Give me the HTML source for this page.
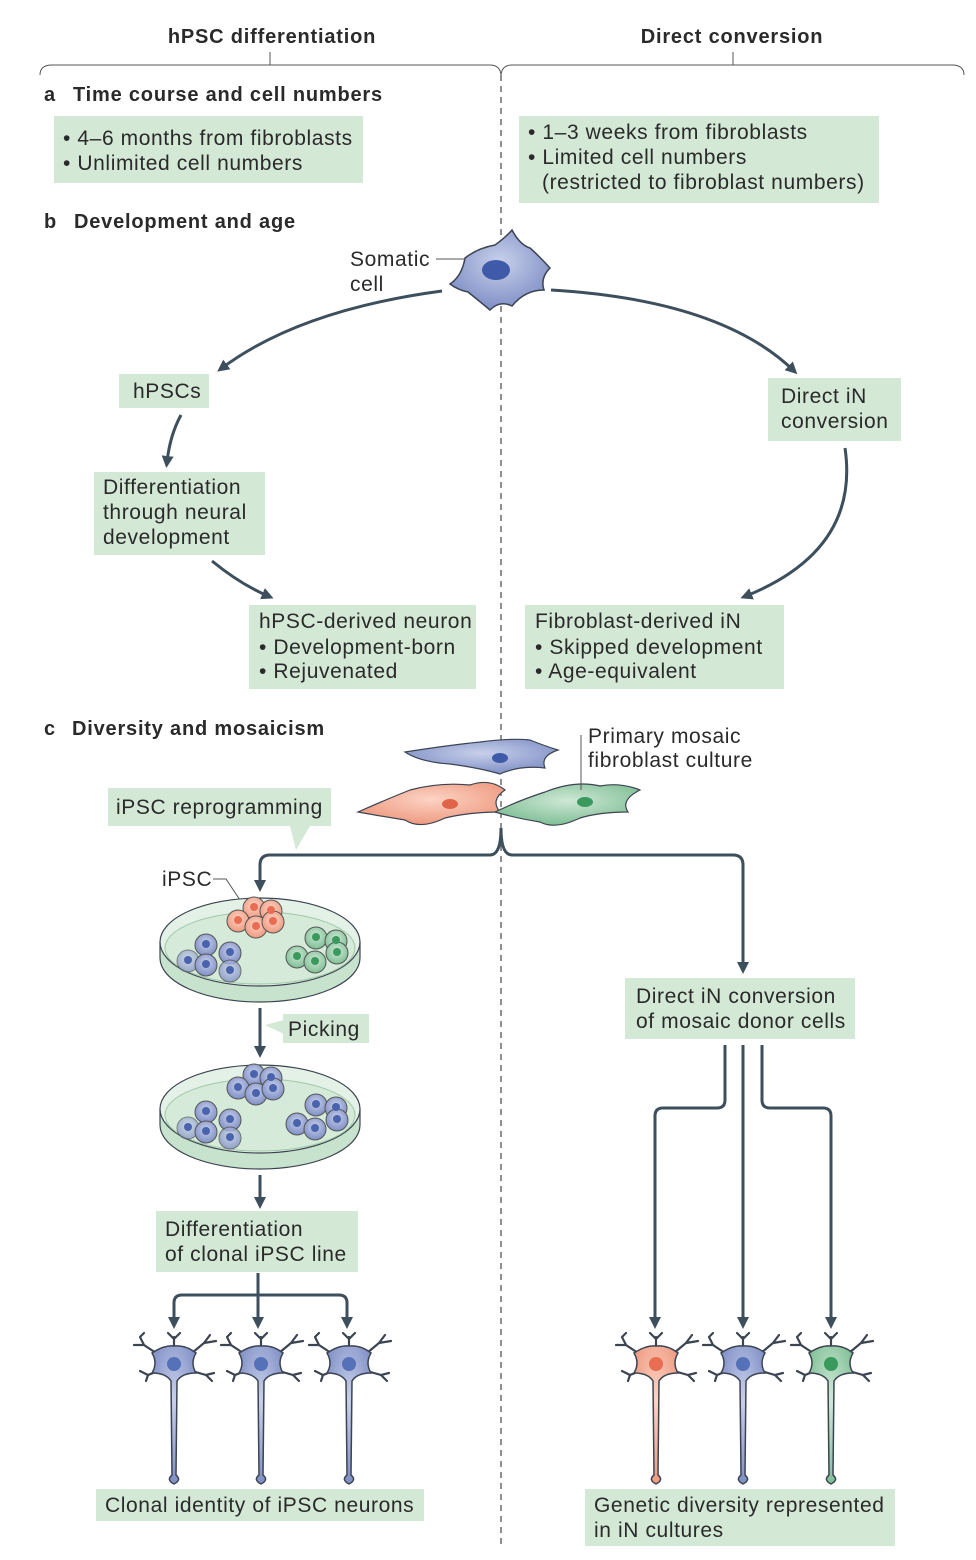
<!DOCTYPE html>
<html><head><meta charset="utf-8"><style>
html,body{margin:0;padding:0;background:#fff}
svg{display:block}
text{font-family:"Liberation Sans","DejaVu Sans",sans-serif;fill:#2a2a2a;font-size:21px;letter-spacing:0.6px}
.b{font-weight:bold;font-size:20px;letter-spacing:0.8px}
.box{fill:#d4e8d6}
.ln{stroke:#3d4f5c;stroke-width:3;fill:none}
.thin{stroke:#555;stroke-width:1;fill:none}
.nr{stroke:#3c4452;stroke-width:1.5}
</style></head><body>
<svg width="976" height="1560" viewBox="0 0 976 1560" xmlns="http://www.w3.org/2000/svg">
<defs>
<marker id="ah" markerWidth="4" markerHeight="4" refX="2" refY="2" orient="auto" markerUnits="strokeWidth">
<path d="M0,0 L4,2 L0,4 Z" fill="#3d4f5c"/></marker>
<radialGradient id="gb" cx="50%" cy="40%" r="60%"><stop offset="0" stop-color="#c8d0ea"/><stop offset="1" stop-color="#7f8fc6"/></radialGradient>
<radialGradient id="go" cx="50%" cy="40%" r="60%"><stop offset="0" stop-color="#fcd3c4"/><stop offset="1" stop-color="#ee9a80"/></radialGradient>
<radialGradient id="gg" cx="50%" cy="40%" r="60%"><stop offset="0" stop-color="#cfe8d6"/><stop offset="1" stop-color="#7fbf95"/></radialGradient>
<g id="neur">
<path d="M-18,-10 L-30,-18 L-34,-26 M-30,-18 L-40,-18 M-34,-26 L-30,-30 M-16,8 L-26,12 L-34,8 M-26,12 L-28,18 M18,-10 L30,-20 L36,-28 M30,-20 L42,-22 M18,8 L32,12 L40,10 M32,12 L38,18 M0,-16 L0,-26 M0,-24 L-6,-30 M0,-24 L6,-30" fill="none" stroke="#3c4452" stroke-width="2.2" stroke-linecap="round"/>
<path class="nr" d="M-22,-10 Q-10,-18 0,-17 Q12,-18 22,-10 Q16,0 22,10 Q8,10 3,18 L2,112 Q8,117 0,121 Q-8,117 -2,112 L-3,18 Q-8,10 -22,10 Q-16,0 -22,-10Z"/>
</g>
</defs>

<!-- headers -->
<text x="272" y="43" text-anchor="middle" class="b">hPSC differentiation</text>
<text x="732" y="43" text-anchor="middle" class="b">Direct conversion</text>
<path class="thin" stroke="#666" d="M40,75 Q40,65 52,65 L490,65 Q500,65 501,75 Q502,65 512,65 L952,65 Q964,65 964,75 M270,52 L270,65 M733,52 L733,65"/>
<line x1="501" y1="75" x2="501" y2="1548" stroke="#555" stroke-width="1.3" stroke-dasharray="6,5"/>

<!-- a -->
<text x="44" y="101" class="b">a</text><text x="73" y="101" class="b">Time course and cell numbers</text>
<rect class="box" x="54" y="116" width="309" height="67"/>
<text x="63" y="145">• 4–6 months from fibroblasts</text>
<text x="63" y="170">• Unlimited cell numbers</text>
<rect class="box" x="519" y="116" width="360" height="87"/>
<text x="528" y="139">• 1–3 weeks from fibroblasts</text>
<text x="528" y="164">• Limited cell numbers</text>
<text x="542" y="189">(restricted to fibroblast numbers)</text>

<!-- b -->
<text x="44" y="228" class="b">b</text><text x="74" y="228" class="b">Development and age</text>
<text x="350" y="266">Somatic</text><text x="350" y="291">cell</text>
<line class="thin" x1="436" y1="259" x2="466" y2="259"/>
<path fill="url(#gb)" stroke="#3c4452" stroke-width="1.5" d="M465,258 Q478,248 495,245 Q505,238 512,230 Q520,245 530,248 Q538,255 550,268 Q540,278 544,290 Q525,290 512,306 Q500,300 490,310 Q478,300 468,292 Q458,290 450,284 Q462,276 465,258Z"/>
<ellipse cx="496" cy="270" rx="14" ry="10" fill="#3f5aa8"/>
<path class="ln" d="M442,291 Q300,310 222,368" marker-end="url(#ah)"/>
<path class="ln" d="M551,290 Q720,300 793,370" marker-end="url(#ah)"/>
<rect class="box" x="119" y="374" width="90" height="34"/><text x="133" y="398">hPSCs</text>
<rect class="box" x="768" y="378" width="133" height="63"/><text x="781" y="403">Direct iN</text><text x="781" y="428">conversion</text>
<path class="ln" d="M181,415 Q170,435 167,462" marker-end="url(#ah)"/>
<rect class="box" x="94" y="472" width="171" height="83"/>
<text x="103" y="494">Differentiation</text><text x="103" y="519">through neural</text><text x="103" y="544">development</text>
<path class="ln" d="M212,561 Q240,584 268,596" marker-end="url(#ah)"/>
<rect class="box" x="249" y="605" width="227" height="84"/>
<text x="259" y="628">hPSC-derived neuron</text><text x="259" y="654">• Development-born</text><text x="259" y="678">• Rejuvenated</text>
<path class="ln" d="M845,448 Q860,550 746,596" marker-end="url(#ah)"/>
<rect class="box" x="525" y="605" width="259" height="84"/>
<text x="535" y="628">Fibroblast-derived iN</text><text x="535" y="654">• Skipped development</text><text x="535" y="678">• Age-equivalent</text>

<!-- c -->
<text x="44" y="735" class="b">c</text><text x="72" y="735" class="b">Diversity and mosaicism</text>
<path fill="url(#gb)" stroke="#3c4452" stroke-width="1.2" d="M405,752 Q450,745 480,742 Q510,738 530,740 Q545,746 558,750 Q540,756 545,768 Q520,765 500,774 Q480,768 450,764 Q420,762 405,752Z"/>
<ellipse cx="500" cy="758" rx="8" ry="5" fill="#3f5aa8"/>
<path fill="url(#go)" stroke="#3c4452" stroke-width="1.2" d="M358,812 Q385,800 410,790 Q440,782 470,785 Q490,778 505,790 Q490,800 500,812 Q470,812 445,818 Q420,830 405,820 Q380,816 358,812Z"/>
<ellipse cx="450" cy="804" rx="8" ry="5" fill="#e0644a"/>
<path fill="url(#gg)" stroke="#3c4452" stroke-width="1.2" d="M495,812 Q520,800 545,792 Q575,780 600,786 Q620,782 640,790 Q620,800 628,812 Q600,812 580,818 Q555,830 540,822 Q515,818 495,812Z"/>
<ellipse cx="585" cy="802" rx="8" ry="5" fill="#3a9a5e"/>
<text x="588" y="743">Primary mosaic</text><text x="588" y="767">fibroblast culture</text>
<line class="thin" x1="581" y1="735" x2="581" y2="790"/>
<rect class="box" x="108" y="788" width="223" height="38"/>
<path class="box" d="M290,826 L310,826 L296,850Z"/>
<text x="116" y="814">iPSC reprogramming</text>
<path class="ln" d="M501,828 Q501,855 490,855 L270,855 Q260,855 260,865 L260,886" marker-end="url(#ah)"/>
<path class="ln" d="M501,828 Q501,855 512,855 L733,855 Q743,855 743,865 L743,968" marker-end="url(#ah)"/>
<text x="162" y="886">iPSC</text>
<path class="thin" d="M213,879 L226,879 L240,900"/>

<!-- dishes -->
<g id="dish1">
<path d="M160,942 L160,958 A100,44 0 0 0 360,958 L360,942Z" fill="#c8e3cd" stroke="#3c4452" stroke-width="1.2"/>
<ellipse cx="260" cy="942" rx="100" ry="44" fill="#e4f1e6" stroke="#3c4452" stroke-width="1.2"/>
<ellipse cx="260" cy="948" rx="95" ry="36" fill="#d5ead9" stroke="#9fc9a8" stroke-width="1"/>
</g>
<g fill="url(#go)" stroke="#555" stroke-width="1">
<circle cx="254" cy="908" r="11"/><circle cx="271" cy="911" r="11"/><circle cx="238" cy="921" r="11"/><circle cx="256" cy="927" r="11"/><circle cx="273" cy="922" r="11"/></g>
<g fill="#e86d52"><circle cx="254" cy="907" r="4"/><circle cx="271" cy="910" r="4"/><circle cx="238" cy="920" r="4"/><circle cx="256" cy="926" r="4"/><circle cx="273" cy="921" r="4"/></g>
<g fill="url(#gb)" stroke="#555" stroke-width="1">
<circle cx="206" cy="945" r="11"/><circle cx="230" cy="953" r="11"/><circle cx="188" cy="961" r="11" opacity=".7"/><circle cx="206" cy="965" r="11"/><circle cx="230" cy="971" r="11" opacity=".8"/></g>
<g fill="#4a63ad"><circle cx="206" cy="944" r="4"/><circle cx="230" cy="952" r="4"/><circle cx="188" cy="960" r="4"/><circle cx="206" cy="964" r="4"/><circle cx="230" cy="970" r="4"/></g>
<g fill="url(#gg)" stroke="#555" stroke-width="1">
<circle cx="316" cy="938" r="11"/><circle cx="336" cy="941" r="11"/><circle cx="297" cy="957" r="11"/><circle cx="315" cy="962" r="11"/><circle cx="337" cy="953" r="11"/></g>
<g fill="#3a9a5e"><circle cx="316" cy="937" r="4"/><circle cx="336" cy="940" r="4"/><circle cx="297" cy="956" r="4"/><circle cx="315" cy="961" r="4"/><circle cx="337" cy="952" r="4"/></g>

<path class="ln" d="M260,1008 L260,1052" marker-end="url(#ah)"/>
<rect class="box" x="283" y="1014" width="86" height="29"/><path class="box" d="M284,1020 L284,1034 L265,1025Z"/>
<text x="288" y="1036">Picking</text>

<use href="#dish1" y="167"/>
<g fill="url(#gb)" stroke="#555" stroke-width="1">
<circle cx="254" cy="1075" r="11"/><circle cx="271" cy="1078" r="11"/><circle cx="238" cy="1088" r="11"/><circle cx="256" cy="1094" r="11"/><circle cx="273" cy="1089" r="11"/>
<circle cx="206" cy="1112" r="11"/><circle cx="230" cy="1120" r="11"/><circle cx="188" cy="1128" r="11" opacity=".7"/><circle cx="206" cy="1132" r="11"/><circle cx="230" cy="1138" r="11" opacity=".8"/>
<circle cx="316" cy="1105" r="11"/><circle cx="336" cy="1108" r="11"/><circle cx="297" cy="1124" r="11"/><circle cx="315" cy="1129" r="11"/><circle cx="337" cy="1120" r="11"/></g>
<g fill="#4a63ad"><circle cx="254" cy="1074" r="4"/><circle cx="271" cy="1077" r="4"/><circle cx="238" cy="1087" r="4"/><circle cx="256" cy="1093" r="4"/><circle cx="273" cy="1088" r="4"/>
<circle cx="206" cy="1111" r="4"/><circle cx="230" cy="1119" r="4"/><circle cx="188" cy="1127" r="4"/><circle cx="206" cy="1131" r="4"/><circle cx="230" cy="1137" r="4"/>
<circle cx="316" cy="1104" r="4"/><circle cx="336" cy="1107" r="4"/><circle cx="297" cy="1123" r="4"/><circle cx="315" cy="1128" r="4"/><circle cx="337" cy="1119" r="4"/></g>

<path class="ln" d="M260,1175 L260,1203" marker-end="url(#ah)"/>
<rect class="box" x="156" y="1211" width="202" height="61"/>
<text x="165" y="1236">Differentiation</text><text x="165" y="1261">of clonal iPSC line</text>
<path class="ln" d="M258,1273 L258,1323" marker-end="url(#ah)"/>
<path class="ln" d="M174,1323 L174,1303 Q174,1295 182,1295 L339,1295 Q347,1295 347,1303 L347,1323" marker-end="url(#ah)"/>
<path class="ln" d="M174,1303 L174,1323" marker-end="url(#ah)"/>

<!-- left neurons -->
<g fill="url(#gb)"><use href="#neur" x="174" y="1363"/><use href="#neur" x="261" y="1363"/><use href="#neur" x="349" y="1363"/></g>
<g fill="#5571b8"><circle cx="174" cy="1364" r="7"/><circle cx="261" cy="1364" r="7"/><circle cx="349" cy="1364" r="7"/></g>
<rect class="box" x="96" y="1489" width="328" height="32"/>
<text x="105" y="1512">Clonal identity of iPSC neurons</text>

<!-- right -->
<rect class="box" x="625" y="978" width="230" height="61"/>
<text x="636" y="1003">Direct iN conversion</text><text x="636" y="1028">of mosaic donor cells</text>
<path class="ln" d="M725,1045 L725,1100 Q725,1108 717,1108 L663,1108 Q655,1108 655,1116 L655,1323" marker-end="url(#ah)"/>
<path class="ln" d="M743,1045 L743,1323" marker-end="url(#ah)"/>
<path class="ln" d="M762,1045 L762,1100 Q762,1108 770,1108 L823,1108 Q831,1108 831,1116 L831,1323" marker-end="url(#ah)"/>
<use href="#neur" x="656" y="1363" fill="url(#go)"/>
<use href="#neur" x="743" y="1363" fill="url(#gb)"/>
<use href="#neur" x="831" y="1363" fill="url(#gg)"/>
<circle cx="656" cy="1364" r="7" fill="#e86d52"/><circle cx="743" cy="1364" r="7" fill="#5571b8"/><circle cx="831" cy="1364" r="7" fill="#3a9a5e"/>
<rect class="box" x="585" y="1489" width="310" height="57"/>
<text x="594" y="1512">Genetic diversity represented</text><text x="594" y="1537">in iN cultures</text>
</svg>
</body></html>
